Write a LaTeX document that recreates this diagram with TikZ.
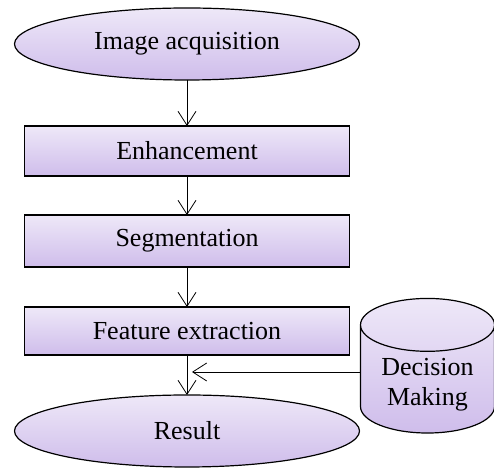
\documentclass[tikz,border=0pt]{standalone}
\usepackage{fontspec}
\setmainfont{Liberation Serif}
\usetikzlibrary{arrows.meta,positioning,shapes.geometric}
\definecolor{lavtop}{HTML}{EEE8F8}
\definecolor{lavbot}{HTML}{CFBDEB}
\begin{document}
\begin{tikzpicture}[node distance=20pt, >={Straight Barb[length=7pt,width=9pt]},
 box/.style={draw,line width=0.6pt,outer sep=0pt,top color=lavtop,bottom color=lavbot,minimum width=162.5pt,minimum height=25pt,font=\fontsize{13}{15}\selectfont},
 oval/.style={box,ellipse,minimum width=172.5pt,minimum height=36pt},
 db/.style={box,cylinder,shape border rotate=90,aspect=0.5,minimum width=67pt,minimum height=67pt,align=center}]
\useasboundingbox (-93.5pt,22pt) rectangle (153.5pt,-212.5pt);
\node[oval] (acq) {Image acquisition};
\node[box,below=23pt of acq] (enh) {Enhancement};
\node[box,below=19.5pt of enh,minimum height=26pt] (seg) {Segmentation};
\node[box,below=of seg,minimum height=24pt] (fe) {Feature extraction};
\node[oval,below=of fe] (res) {Result};
\node[db,right=5.5pt of fe.east,yshift=-27pt] (dm) {Decision\\Making};
\draw[->] (acq)--(enh);\draw[->] (enh)--(seg);\draw[->] (seg)--(fe);\draw[->] (fe)--(res);
\draw[->,shorten >=2.5pt] ([yshift=6.5pt]dm.west)--([yshift=6.5pt]dm.west -| fe.south);
\end{tikzpicture}
\end{document}
